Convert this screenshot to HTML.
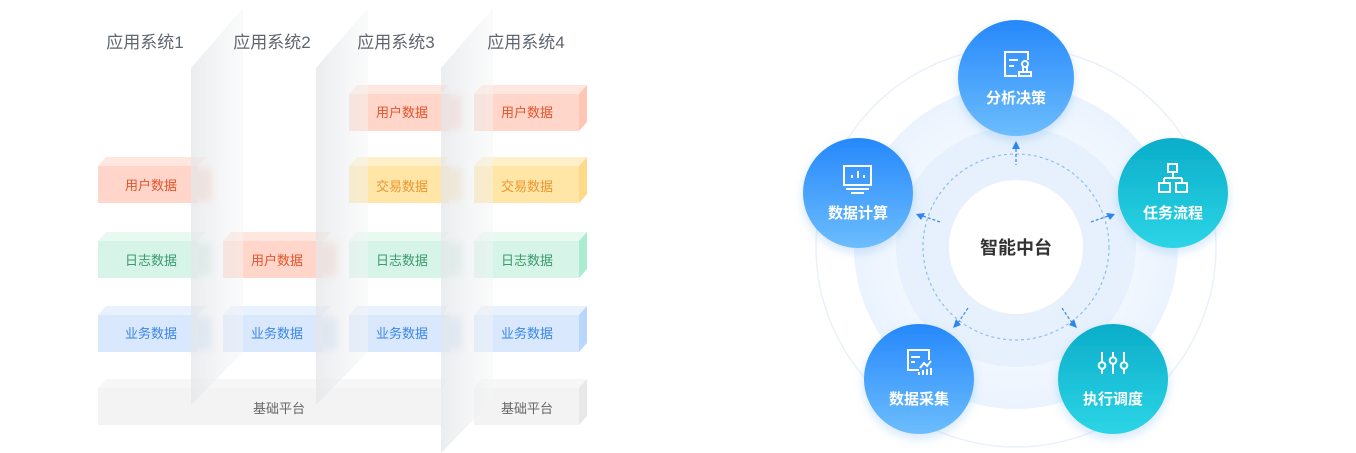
<!DOCTYPE html>
<html><head><meta charset="utf-8"><style>
html,body{margin:0;padding:0;background:#fff;}
svg{display:block;font-family:"Liberation Sans","Noto Sans CJK SC",sans-serif;}
</style></head><body>
<svg width="1356" height="453" viewBox="0 0 1356 453" xmlns="http://www.w3.org/2000/svg">
<defs>
<linearGradient id="pg" x1="0" y1="0" x2="1" y2="0"><stop offset="0" stop-color="#e4e6e9" stop-opacity="0.75"/><stop offset="1" stop-color="#f4f5f6" stop-opacity="0.45"/></linearGradient>
<linearGradient id="bl" x1="0" y1="0" x2="0" y2="1"><stop offset="0" stop-color="#2688fb"/><stop offset="1" stop-color="#6cbdfd"/></linearGradient>
<linearGradient id="cy" x1="0" y1="0" x2="0" y2="1"><stop offset="0" stop-color="#0badc9"/><stop offset="1" stop-color="#2cd5e6"/></linearGradient>
<filter id="sh" x="-30%" y="-30%" width="160%" height="160%"><feDropShadow dx="0" dy="4" stdDeviation="5" flood-color="#2f7fe0" flood-opacity="0.2"/></filter>
<filter id="bz" x="-50%" y="-50%" width="200%" height="200%"><feGaussianBlur stdDeviation="4"/></filter>
<radialGradient id="ring" cx="0.5" cy="0.5" r="0.5"><stop offset="0.7" stop-color="#f3f8ff"/><stop offset="1" stop-color="#eaf3fe"/></radialGradient>
</defs>

<!-- platform -->
<g>
<polygon points="98,388 106,379 449,379 441,388" fill="#f7f7f7"/>
<rect x="98" y="388" width="343" height="37" fill="#f3f3f3"/>
<text x="279" y="413" font-size="13" fill="#666" text-anchor="middle">基础平台</text>
<polygon points="474,388 482,379 587,379 579,388" fill="#f7f7f7"/>
<rect x="474" y="388" width="105" height="37" fill="#f3f3f3"/>
<polygon points="579,388 587,379 587,416 579,425" fill="#e8e8e8"/>
<text x="527" y="413" font-size="13" fill="#666" text-anchor="middle">基础平台</text>
</g>

<!-- blurred bleed behind panels -->
<g filter="url(#bz)" opacity="0.8">
<rect x="190" y="168" width="22" height="33" fill="#f9c7b6"/>
<rect x="190" y="243" width="22" height="33" fill="#c4ecdb"/>
<rect x="190" y="317" width="22" height="33" fill="#c8dcfb"/>
<rect x="315" y="243" width="22" height="33" fill="#f9c7b6"/>
<rect x="315" y="317" width="22" height="33" fill="#c8dcfb"/>
<rect x="440" y="96" width="22" height="33" fill="#f9c7b6"/>
<rect x="440" y="168" width="22" height="33" fill="#f7dc9c"/>
<rect x="440" y="243" width="22" height="33" fill="#c4ecdb"/>
<rect x="440" y="317" width="22" height="33" fill="#c8dcfb"/>
</g>

<!-- blocks -->
<g font-size="13" text-anchor="middle">
<g fill="#ffd6c9"><polygon points="349,94 357,85 449,85 441,94" fill="#ffe6de"/><rect x="349" y="94" width="100" height="37"/></g>
<g fill="#ffd6c9"><polygon points="474,94 482,85 587,85 579,94" fill="#ffe6de"/><rect x="474" y="94" width="105" height="37"/><polygon points="579,94 587,85 587,122 579,131" fill="#ffc6b3"/></g>
<text x="402" y="117" fill="#e5532b">用户数据</text><text x="527" y="117" fill="#e5532b">用户数据</text>
<g><polygon points="98,166 106,157 206,157 198,166" fill="#ffe6de"/><rect x="98" y="166" width="100" height="37" fill="#ffd6c9"/></g>
<text x="151" y="190" fill="#e5532b">用户数据</text>
<g><polygon points="349,166 357,157 449,157 441,166" fill="#fff0cc"/><rect x="349" y="166" width="100" height="37" fill="#ffe5a6"/></g>
<g><polygon points="474,166 482,157 587,157 579,166" fill="#fff0cc"/><rect x="474" y="166" width="105" height="37" fill="#ffe5a6"/><polygon points="579,166 587,157 587,194 579,203" fill="#ffd98a"/></g>
<text x="402" y="191" fill="#ec9631">交易数据</text><text x="527" y="191" fill="#ec9631">交易数据</text>
<g><polygon points="98,241 106,232 206,232 198,241" fill="#e7f9f1"/><rect x="98" y="241" width="100" height="37" fill="#d6f4e8"/></g>
<g><polygon points="223,241 231,232 331,232 323,241" fill="#ffe6de"/><rect x="223" y="241" width="100" height="37" fill="#ffd6c9"/></g>
<g><polygon points="349,241 357,232 449,232 441,241" fill="#e7f9f1"/><rect x="349" y="241" width="100" height="37" fill="#d6f4e8"/></g>
<g><polygon points="474,241 482,232 587,232 579,241" fill="#e7f9f1"/><rect x="474" y="241" width="105" height="37" fill="#d6f4e8"/><polygon points="579,241 587,232 587,269 579,278" fill="#a9eccf"/></g>
<text x="151" y="265" fill="#3c9a6c">日志数据</text><text x="277" y="265" fill="#e5532b">用户数据</text><text x="402" y="265" fill="#3c9a6c">日志数据</text><text x="527" y="265" fill="#3c9a6c">日志数据</text>
<g><polygon points="98,315 106,306 206,306 198,315" fill="#e8f1fe"/><rect x="98" y="315" width="100" height="37" fill="#d9e8fd"/></g>
<g><polygon points="223,315 231,306 331,306 323,315" fill="#e8f1fe"/><rect x="223" y="315" width="100" height="37" fill="#d9e8fd"/></g>
<g><polygon points="349,315 357,306 449,306 441,315" fill="#e8f1fe"/><rect x="349" y="315" width="100" height="37" fill="#d9e8fd"/></g>
<g><polygon points="474,315 482,306 587,306 579,315" fill="#e8f1fe"/><rect x="474" y="315" width="105" height="37" fill="#d9e8fd"/><polygon points="579,315 587,306 587,343 579,352" fill="#b9d6fd"/></g>
<text x="151" y="338" fill="#3a86e8">业务数据</text><text x="277" y="338" fill="#3a86e8">业务数据</text><text x="402" y="338" fill="#3a86e8">业务数据</text><text x="527" y="338" fill="#3a86e8">业务数据</text>
</g>

<!-- glass panels -->
<polygon points="191,68 243,8 243,352 191,405" fill="url(#pg)"/>
<polygon points="316,68 368,8 368,352 316,405" fill="url(#pg)"/>
<polygon points="441,68 493,8 493,400 441,453" fill="url(#pg)"/>

<!-- headers -->
<g font-size="17" fill="#5f6670" text-anchor="middle">
<text x="145" y="48">应用系统1</text><text x="272" y="48">应用系统2</text><text x="396" y="48">应用系统3</text><text x="526" y="48">应用系统4</text>
</g>

<!-- right diagram -->
<circle cx="1016" cy="247" r="200" fill="#fff" stroke="#eaf1fb" stroke-width="1.5"/>
<circle cx="1016" cy="247" r="162" fill="url(#ring)"/>
<circle cx="1016" cy="247" r="120" fill="#e6f1fd"/>
<circle cx="1016" cy="247" r="93" fill="none" stroke="#8fbdf2" stroke-width="1.2" stroke-dasharray="3,3"/>
<circle cx="1016" cy="247" r="67" fill="#fff"/>
<text x="1016" y="254" font-size="18" font-weight="bold" fill="#333" text-anchor="middle">智能中台</text>
<g fill="#2f86f0">
<polygon points="1016,141 1012,149 1020,149"/>
<polygon points="916,214 925,213 921,220"/>
<polygon points="1115,214 1106,213 1110,220"/>
<polygon points="953,328 961,325 956,319"/>
<polygon points="1077,328 1069,325 1074,319"/>
</g>
<g stroke="#2f86f0" stroke-width="1.2" fill="none" stroke-dasharray="3,2">
<path d="M1016,149 L1016,165"/><path d="M923,216 L940,222"/><path d="M1108,216 L1091,222"/><path d="M958,323 L968,308"/><path d="M1072,323 L1062,308"/>
</g>

<g filter="url(#sh)">
<circle cx="1016" cy="78" r="58" fill="url(#bl)"/>
<circle cx="858" cy="193" r="55" fill="url(#bl)"/>
<circle cx="1173" cy="193" r="55" fill="url(#cy)"/>
<circle cx="919" cy="379" r="55" fill="url(#bl)"/>
<circle cx="1113" cy="379" r="55" fill="url(#cy)"/>
</g>
<g font-size="15" font-weight="bold" fill="#fff" text-anchor="middle">
<text x="1016" y="103">分析决策</text>
<text x="858" y="218">数据计算</text>
<text x="1173" y="218">任务流程</text>
<text x="919" y="404">数据采集</text>
<text x="1113" y="404">执行调度</text>
</g>
<g stroke="#fff" stroke-width="2" fill="none">
<path d="M1017,76 H1005 V52 H1028 V60"/><path d="M1009,60 H1018 M1009,66 H1014"/><circle cx="1025" cy="64" r="3"/><path d="M1023,67 V72 M1027,67 V72 M1019,76 H1031 V72 H1019 Z"/>
<rect x="844" y="166" width="27" height="19"/><path d="M846,189 H869 M851,193 H864"/><path d="M852,178 V175 M858,178 V171 M864,178 V175"/>
<rect x="1168" y="164" width="9" height="8"/><path d="M1173,172 V178 M1164,178 H1182 M1164,178 V183 M1182,178 V183"/><rect x="1159" y="183" width="11" height="9"/><rect x="1176" y="183" width="11" height="9"/>
<path d="M919,370 H908 V350 H929 V360"/><path d="M911,357 H920 M911,362 H915"/><path d="M920,368 L924,363 L927,366 L931,361"/><path d="M919,372 V375 M923,370 V375 M927,369 V375 M931,368 V375"/>
<path d="M1102,352 V362 M1102,369 V374 M1113,352 V357 M1113,364 V374 M1124,352 V362 M1124,369 V374"/><circle cx="1102" cy="365.5" r="3.3"/><circle cx="1113" cy="360.5" r="3.3"/><circle cx="1124" cy="365.5" r="3.3"/>
</g>
</svg>
</body></html>
